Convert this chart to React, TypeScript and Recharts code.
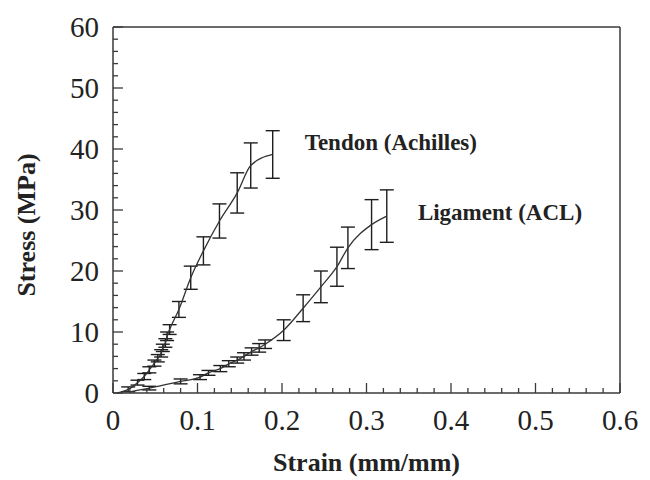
import React from "react";
import { LineChart, Line, XAxis, YAxis, ErrorBar, ReferenceLine, ReferenceDot } from "recharts";

// Tendon (Achilles): strain (mm/mm), stress (MPa), error (MPa)
const tendonStrain = [0.005, 0.018, 0.029, 0.037, 0.043, 0.049, 0.053, 0.057, 0.059, 0.062, 0.064, 0.067, 0.078, 0.092, 0.107, 0.126, 0.147, 0.163, 0.189];
const tendonStress = [0.0, 0.6, 1.7, 2.7, 3.8, 4.9, 5.7, 6.5, 7.4, 8.2, 9.3, 10.4, 13.7, 18.9, 23.3, 28.2, 32.8, 37.3, 39.1];
const tendonErr = [null, 0.4, 0.4, 0.5, 0.5, 0.5, 0.6, 0.6, 0.6, 0.7, 0.7, 0.8, 1.3, 1.9, 2.3, 2.8, 3.3, 3.7, 3.9];

// Ligament (ACL)
const ligStrain = [0.02, 0.043, 0.08, 0.103, 0.113, 0.127, 0.137, 0.147, 0.155, 0.164, 0.173, 0.18, 0.202, 0.225, 0.246, 0.265, 0.278, 0.306, 0.324];
const ligStress = [0.2, 0.8, 1.9, 2.6, 3.3, 4.0, 4.8, 5.4, 6.0, 6.8, 7.4, 8.0, 10.3, 13.9, 17.4, 20.7, 23.8, 27.6, 29.0];
const ligErr = [null, 0.3, 0.4, 0.4, 0.4, 0.5, 0.5, 0.5, 0.6, 0.6, 0.7, 0.7, 1.7, 2.2, 2.6, 3.2, 3.4, 4.1, 4.3];

const xTicks = [0, 0.02, 0.04, 0.06, 0.08, 0.1, 0.12, 0.14, 0.16, 0.18, 0.2, 0.22, 0.24, 0.26, 0.28, 0.3, 0.32, 0.34, 0.36, 0.38, 0.4, 0.42, 0.44, 0.46, 0.48, 0.5, 0.52, 0.54, 0.56, 0.58, 0.6];
const yTicks = [0, 2, 4, 6, 8, 10, 12, 14, 16, 18, 20, 22, 24, 26, 28, 30, 32, 34, 36, 38, 40, 42, 44, 46, 48, 50, 52, 54, 56, 58, 60];

const seriesNames = ["Tendon (Achilles)", "Ligament (ACL)"];
const annotationStrain = [0.228, 0.362];
const annotationStress = [41.0, 29.6];

const tendon = tendonStrain.map((s, i) => ({ strain: s, stress: tendonStress[i], err: tendonErr[i] ?? undefined }));
const ligament = ligStrain.map((s, i) => ({ strain: s, stress: ligStress[i], err: ligErr[i] ?? undefined }));

const FONT = '"Liberation Serif", "Times New Roman", serif';
const AXIS = "#3a3a3a";
const INK = "#1e1e1e";

const isMajorX = (v: number) => Math.abs(v * 10 - Math.round(v * 10)) < 1e-6;
const isMajorY = (v: number) => Math.abs(v % 10) < 1e-6;

const XTick = (props: any) => {
  const { x, y, payload } = props;
  const v = payload.value as number;
  const major = isMajorX(v);
  return (
    <g>
      <line x1={x} x2={x} y1={y} y2={y - (major ? 10 : 5)} stroke={AXIS} strokeWidth={1.3} />
      {major && (
        <text x={x} y={y + 37} textAnchor="middle" fontFamily={FONT} fontSize={29} fill="#222">
          {v === 0 ? "0" : v.toFixed(1)}
        </text>
      )}
    </g>
  );
};

const YTick = (props: any) => {
  const { x, y, payload } = props;
  const v = payload.value as number;
  const major = isMajorY(v);
  return (
    <g>
      <line x1={x} x2={x + (major ? 10 : 5)} y1={y} y2={y} stroke={AXIS} strokeWidth={1.3} />
      {major && (
        <text x={x - 14} y={y + 10} textAnchor="end" fontFamily={FONT} fontSize={29} fill="#222">
          {String(v)}
        </text>
      )}
    </g>
  );
};

const XTitle = (props: any) => {
  const vb = props.viewBox;
  return (
    <text x={vb.x + vb.width / 2} y={vb.y + 78} textAnchor="middle" fontFamily={FONT} fontSize={26} fontWeight="bold" fill="#222">
      Strain (mm/mm)
    </text>
  );
};

const YTitle = (props: any) => {
  const vb = props.viewBox;
  const cx = 27;
  const cy = vb.y + vb.height / 2 + 15;
  return (
    <text x={cx} y={cy} transform={`rotate(-90, ${cx}, ${cy})`} textAnchor="middle" fontFamily={FONT} fontSize={26} fontWeight="bold" fill="#222">
      Stress (MPa)
    </text>
  );
};

const makeAnnot = (text: string) => (props: any) => {
  const vb = props.viewBox;
  return (
    <text x={vb.x} y={vb.y + vb.height / 2} dominantBaseline="central" fontFamily={FONT} fontSize={23} fontWeight="bold" fill="#222">
      {text}
    </text>
  );
};

export default function App() {
  return (
    <div style={{ width: 642, height: 472 }}>
      <style>{"html, body { overflow: hidden; } .recharts-surface { display: block; }"}</style>
      <LineChart width={642} height={472} margin={{ top: 19, right: 30, bottom: 0, left: 0 }}>
        <XAxis
          dataKey="strain"
          type="number"
          domain={[0, 0.6]}
          ticks={xTicks}
          interval={0}
          tickSize={0}
          tickMargin={0}
          tickLine={false}
          tick={<XTick />}
          height={87}
          axisLine={{ stroke: AXIS, strokeWidth: 1.5 }}
          label={{ content: XTitle }}
        />
        <YAxis
          type="number"
          domain={[0, 60]}
          ticks={yTicks}
          interval={0}
          tickSize={0}
          tickMargin={0}
          tickLine={false}
          tick={<YTick />}
          width={105}
          axisLine={{ stroke: AXIS, strokeWidth: 1.5 }}
          label={{ content: YTitle }}
        />
        <ReferenceLine y={60} stroke={AXIS} strokeWidth={1.5} />
        <ReferenceLine x={0.6} stroke={AXIS} strokeWidth={1.5} />
        <Line data={tendon} dataKey="stress" type="monotone" stroke="#333" strokeWidth={1.3} dot={false} isAnimationActive={false}>
          <ErrorBar dataKey="err" direction="y" width={7} stroke={INK} strokeWidth={1.4} />
        </Line>
        <Line data={ligament} dataKey="stress" type="monotone" stroke="#333" strokeWidth={1.3} dot={false} isAnimationActive={false}>
          <ErrorBar dataKey="err" direction="y" width={7} stroke={INK} strokeWidth={1.4} />
        </Line>
        {seriesNames.map((name, i) => (
          <ReferenceDot
            key={name}
            x={annotationStrain[i]}
            y={annotationStress[i]}
            r={1}
            fill="none"
            stroke="none"
            label={{ content: makeAnnot(name) }}
          />
        ))}
      </LineChart>
    </div>
  );
}
